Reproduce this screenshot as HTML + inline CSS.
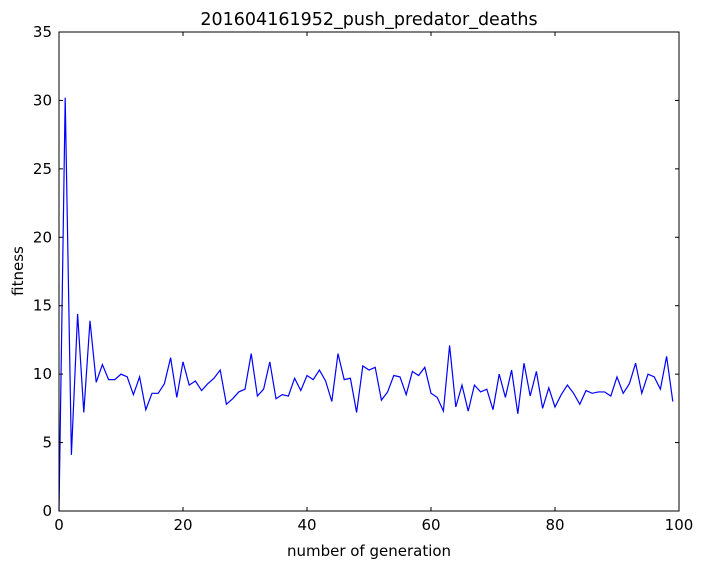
<!DOCTYPE html>
<html><head><meta charset="utf-8"><style>
body{margin:0;background:#fff;}
svg{display:block;font-family:"DejaVu Sans","Liberation Sans",sans-serif;}
</style></head><body>
<svg id="chart" width="703" height="570"></svg>
<script>
const values=[0,30.2,4.1,14.4,7.2,13.9,9.4,10.7,9.6,9.6,10.0,9.8,8.5,9.8,7.4,8.6,8.6,9.3,11.2,8.3,10.9,9.2,9.5,8.8,9.3,9.7,10.3,7.8,8.2,8.7,8.9,11.5,8.4,8.9,10.9,8.2,8.5,8.4,9.7,8.8,9.9,9.6,10.3,9.5,8.0,11.5,9.6,9.7,7.2,10.6,10.3,10.5,8.1,8.7,9.9,9.8,8.5,10.2,9.9,10.5,8.6,8.3,7.3,12.1,7.6,9.2,7.3,9.2,8.7,8.9,7.4,10.0,8.3,10.3,7.1,10.8,8.4,10.2,7.5,9.0,7.6,8.5,9.2,8.6,7.8,8.8,8.6,8.7,8.7,8.4,9.8,8.6,9.3,10.8,8.6,10.0,9.8,8.9,11.3,8.0];
const xTicks=[0,20,40,60,80,100];
const yTicks=[0,5,10,15,20,25,30,35];
const L=59,R=679,T=32,B=511;
const xs=v=>L+(v-0)/(100)*(R-L);
const ys=v=>B-v/35*(B-T);
const svg=document.getElementById('chart');
const NS='http://www.w3.org/2000/svg';
function mk(tag,attrs,parent){const e=document.createElementNS(NS,tag);for(const k in attrs)e.setAttribute(k,attrs[k]);(parent||svg).appendChild(e);return e;}
let d=values.map((v,i)=>(i?'L':'M')+xs(i).toFixed(2)+' '+ys(v).toFixed(2)).join(' ');
const line=mk('path',{d:d,fill:'none',stroke:'#0000ff','stroke-width':1.2});


const frame=mk('rect',{x:L,y:T,width:R-L,height:B-T,fill:'none',stroke:'#000','stroke-width':1});


xTicks.forEach(t=>{const x=xs(t);
mk('line',{x1:x,x2:x,y1:B,y2:B-4,stroke:'#000'});mk('line',{x1:x,x2:x,y1:T,y2:T+4,stroke:'#000'});
const tx=mk('text',{x:x,y:B+19,'text-anchor':'middle','font-size':15});tx.textContent=t;

});
yTicks.forEach(t=>{const y=ys(t);
mk('line',{x1:L,x2:L+4,y1:y,y2:y,stroke:'#000'});mk('line',{x1:R,x2:R-4,y1:y,y2:y,stroke:'#000'});
const tx=mk('text',{x:L-7,y:y+5,'text-anchor':'end','font-size':15});tx.textContent=t;

});
const title=mk('text',{x:369,y:25,'text-anchor':'middle','font-size':17.5});title.textContent='201604161952_push_predator_deaths';


const xl=mk('text',{x:369,y:556,'text-anchor':'middle','font-size':15});xl.textContent='number of generation';


const yl=mk('text',{x:23,y:271,'text-anchor':'middle','font-size':15,transform:'rotate(-90 23 271)'});yl.textContent='fitness';


</script>
</body></html>
